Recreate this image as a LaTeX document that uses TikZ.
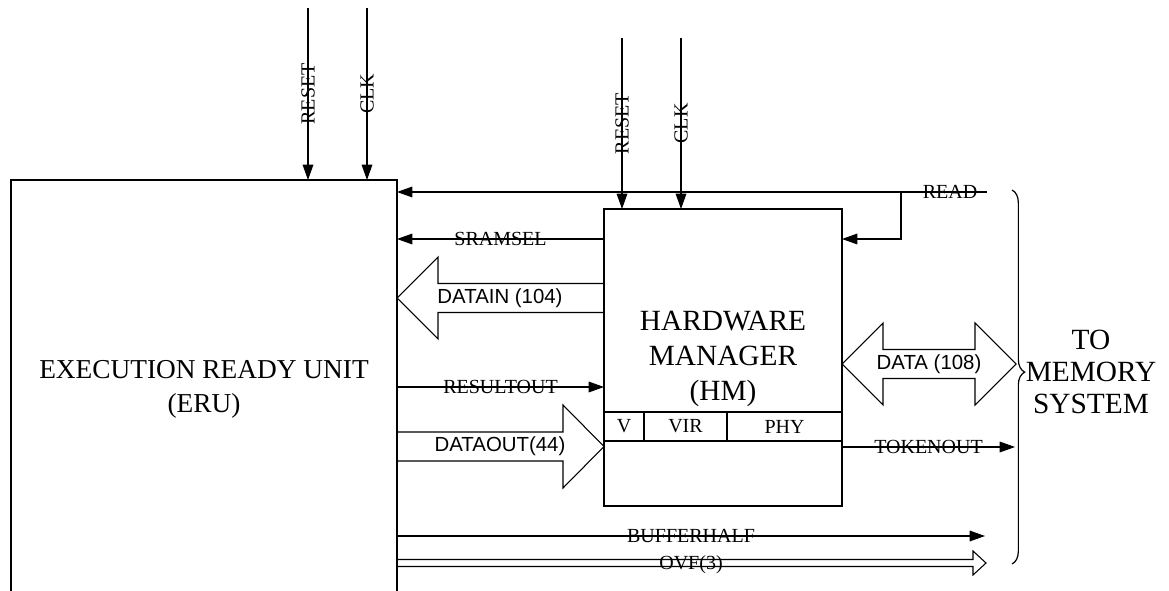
\documentclass[tikz,border=0pt]{standalone}
\usepackage{fontspec}
\setmainfont{Liberation Serif}
\newfontfamily\sansf{Liberation Sans}
\usetikzlibrary{arrows.meta,decorations.pathreplacing}
\begin{document}
\begin{tikzpicture}[x=0.75pt,y=-0.75pt,
  line width=0.8pt,
  sig/.style={-{Triangle[length=11.5pt,width=8pt]}},
  box/.style={draw, inner sep=0pt, outer sep=0pt, rectangle},
  lbl/.style={font=\fontsize{15}{18}\selectfont, inner sep=0pt},
  slbl/.style={font=\sansf\fontsize{15.3}{18}\selectfont, inner sep=0pt},
  big/.style={align=center, inner sep=0pt},
  fat/.style={draw, line join=miter}]

\useasboundingbox (0,0) rectangle (1169,591);
\fill[white] (0,0) rectangle (1169,591);
\clip (0,0) rectangle (1169,591);

% Execution ready unit (open at the bottom)
\node[box, minimum width=289.5pt, minimum height=330pt] (eru) at (204,400) {};
\node[big, font=\fontsize{20.5}{25.5}\selectfont] (erul) at (204,389) {EXECUTION READY UNIT\\(ERU)};

% Hardware manager
\node[box, minimum width=178.5pt, minimum height=222.75pt] (hm) at (723,357.5) {};
\node[big, font=\fontsize{22}{26.25}\selectfont] (hml) at (723,358.5) {HARDWARE\\MANAGER\\(HM)};
\draw (hm.west |- 0,412) -- (hm.east |- 0,412);
\draw (hm.west |- 0,441) -- (hm.east |- 0,441);
\draw (644,412) -- (644,441);
\draw (727,412) -- (727,441);
\node[lbl] (fv) at (624,426.5) {V};
\node[lbl] (fvir) at (685.5,426.5) {VIR};
\node[lbl] (fphy) at (784.5,426.5) {PHY};

% RESET / CLK inputs
\coordinate (rst1) at (308,8);
\coordinate (clk1) at (367,8);
\coordinate (rst2) at (622,38);
\coordinate (clk2) at (681,38);
\draw[sig] (rst1) -- (rst1 |- eru.north) node[midway, lbl, rotate=90] {RESET};
\draw[sig] (clk1) -- (clk1 |- eru.north) node[midway, lbl, rotate=90] {CLK};
\draw[sig] (rst2) -- (rst2 |- hm.north) node[midway, lbl, rotate=90] {RESET};
\draw[sig] (clk2) -- (clk2 |- hm.north) node[midway, lbl, rotate=90] {CLK};

% READ
\coordinate (readEnd) at (987,192);
\coordinate (readBr) at (901,192);
\draw[sig] (readEnd) -- (eru.east |- readEnd);
\node[lbl] (readl) at (950,192) {READ};
\draw[sig] (readBr) |- (hm.east |- 0,239);

% SRAMSEL
\draw[sig] (hm.west |- 0,239) -- (eru.east |- 0,239) node[midway, lbl] {SRAMSEL};

% DATAIN (104)
\draw[fat] (hm.west |- 0,283.5) -- (438,283.5) -- (438,257) -- (eru.east |- 0,298)
  -- (438,339) -- (438,312.5) -- (hm.west |- 0,312.5);
\node[slbl] (dinl) at (500,298) {DATAIN (104)};

% RESULTOUT
\draw[sig] (eru.east |- 0,387) -- (hm.west |- 0,387) node[midway, lbl] {RESULTOUT};

% DATAOUT(44)
\draw[fat] (eru.east |- 0,432) -- (563,432) -- (563,405) -- (hm.west |- 0,446.5)
  -- (563,488) -- (563,461) -- (eru.east |- 0,461);
\node[slbl] (doutl) at (500,446.5) {DATAOUT(44)};

% DATA (108)
\draw[fat] (hm.east |- 0,364) -- (883,323) -- (883,349.5) -- (975,349.5) -- (975,323)
  -- (1016,364) -- (975,405) -- (975,378.5) -- (883,378.5) -- (883,405) -- cycle;
\node[slbl] (datal) at (929,364) {DATA (108)};

% TOKENOUT
\coordinate (tokEnd) at (1015,447);
\draw[sig] (hm.east |- tokEnd) -- (tokEnd) node[midway, lbl] {TOKENOUT};

% BUFFERHALF
\coordinate (bufEnd) at (985,536);
\draw[sig] (eru.east |- bufEnd) -- (bufEnd) node[midway, lbl] {BUFFERHALF};

% OVF(3)
\draw[fat] (eru.east |- 0,559.5) -- (973,559.5) -- (973,551) -- (986,563) -- (973,575)
  -- (973,566.5) -- (eru.east |- 0,566.5);
\node[lbl] (ovfl) at (691,565) {OVF(3)};

% Brace and memory system
\draw[line width=0.9pt, decorate, decoration={brace, amplitude=9.5pt, aspect=0.487}]
  (1012,190) -- (1012,564);
\node[big, font=\fontsize{22}{24}\selectfont] (mem) at (1091,372) {TO\\MEMORY\\SYSTEM};
\end{tikzpicture}
\end{document}
